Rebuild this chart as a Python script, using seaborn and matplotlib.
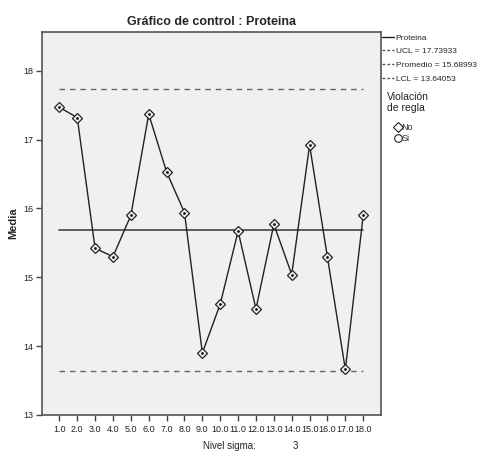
import matplotlib
matplotlib.use("Agg")
import matplotlib.pyplot as plt
from matplotlib.lines import Line2D
from matplotlib import font_manager
import seaborn as sns
import pandas as pd

# ---- data ----
samples = [1.0, 2.0, 3.0, 4.0, 5.0, 6.0, 7.0, 8.0, 9.0, 10.0, 11.0, 12.0, 13.0, 14.0, 15.0, 16.0, 17.0, 18.0]
media = [17.47, 17.32, 15.42, 15.30, 15.90, 17.37, 16.53, 15.94, 13.90, 14.61,
         15.67, 14.54, 15.77, 15.04, 16.92, 15.29, 13.66, 15.90]
ucl = 17.73933
promedio = 15.68993
lcl = 13.64053
x_tick_labels = ["1.0", "2.0", "3.0", "4.0", "5.0", "6.0", "7.0", "8.0", "9.0", "10.0",
                 "11.0", "12.0", "13.0", "14.0", "15.0", "16.0", "17.0", "18.0"]
y_ticks = [13, 14, 15, 16, 17, 18]
sigma_level = 3

sns.set_style("white")
plt.rcParams['font.family'] = ['Liberation Sans', 'DejaVu Sans']
avail = {f.name for f in font_manager.fontManager.ttflist}
narrow = ['Liberation Sans Narrow', 'Liberation Sans'] if 'Liberation Sans Narrow' in avail else ['Liberation Sans']

fig = plt.figure(figsize=(4.83, 4.51), dpi=100)
ax = fig.add_axes([0.087, 0.080, 0.702, 0.850])
ax.set_facecolor("#F0F0F0")

df = pd.DataFrame({"Muestra": samples, "Media": media})
sns.lineplot(data=df, x="Muestra", y="Media", ax=ax, color="#222222", linewidth=1.0,
             marker="D", markersize=5, markerfacecolor="#F0F0F0",
             markeredgecolor="#222222", markeredgewidth=0.9, zorder=3)
sns.scatterplot(data=df, x="Muestra", y="Media", ax=ax, color="#111111", s=4,
                linewidth=0, zorder=4)

ax.plot([samples[0], samples[-1]], [ucl, ucl], color="#666666", linestyle=(0, (4, 3.5)), linewidth=1.0)
ax.plot([samples[0], samples[-1]], [lcl, lcl], color="#666666", linestyle=(0, (4, 3.5)), linewidth=1.0)
ax.plot([samples[0], samples[-1]], [promedio, promedio], color="#444444", linewidth=1.2)

ax.set_xlim(0.03, 19.0)
ax.set_ylim(13, 18.57)
ax.set_xticks(samples)
ax.set_xticklabels(x_tick_labels, fontsize=6.5, color="#222222", family=narrow)
ax.set_yticks(y_ticks)
ax.set_yticklabels([str(v) for v in y_ticks], fontsize=6.5, color="#222222", family=narrow)
ax.tick_params(axis="both", which="major", direction="out", length=4, width=1.0,
               color="#444444", pad=2, bottom=True, left=True, top=False, right=False)
ax.tick_params(axis="x", pad=3)
for s in ax.spines.values():
    s.set_color("#555555")
    s.set_linewidth(1.2)

ax.set_xlabel("")
ax.set_ylabel("Media", fontsize=8, fontweight="bold", labelpad=4)
ax.set_title("Gráfico de control : Proteina", fontsize=9, fontweight="bold", pad=5)

fig.text(0.420, 0.0, "Nivel sigma:", fontsize=7, ha="left", va="bottom", color="#222222")
fig.text(0.605, 0.0, str(sigma_level), fontsize=7, ha="left", va="bottom", color="#222222")

# legend for lines
line_handles = [
    Line2D([0], [0], color="#222222", linewidth=1.0),
    Line2D([0], [0], color="#555555", linewidth=1.0, linestyle=(0, (2, 1.5))),
    Line2D([0], [0], color="#555555", linewidth=1.0, linestyle=(0, (2, 1.5))),
    Line2D([0], [0], color="#555555", linewidth=1.0, linestyle=(0, (2, 1.5))),
]
line_labels = ["Proteina", f"UCL = {ucl:.5f}", f"Promedio = {promedio:.5f}", f"LCL = {lcl:.5f}"]
leg1 = fig.legend(line_handles, line_labels, loc="upper left", bbox_to_anchor=(0.790, 0.925),
                  frameon=False, handlelength=1.5, handletextpad=0.2,
                  labelspacing=0.7, borderaxespad=0, borderpad=0, prop={'family': narrow, 'size': 6})

fig.text(0.801, 0.795, "Violación\nde regla", fontsize=7.5, ha="left", va="top",
         color="#222222", linespacing=1.1)
mk_handles = [
    Line2D([0], [0], marker="D", linestyle="none", markersize=5, markerfacecolor="white",
           markeredgecolor="#222222", markeredgewidth=0.8),
    Line2D([0], [0], marker="o", linestyle="none", markersize=5.5, markerfacecolor="white",
           markeredgecolor="#222222", markeredgewidth=0.8),
]
leg2 = fig.legend(mk_handles, ["No", "Si"], loc="upper left", bbox_to_anchor=(0.818, 0.727),
                  frameon=False, handlelength=0.6, handletextpad=0.1,
                  labelspacing=0.2, borderaxespad=0, borderpad=0, prop={'family': narrow, 'size': 6.5})

fig.savefig("out.png", dpi=100, facecolor="white")
